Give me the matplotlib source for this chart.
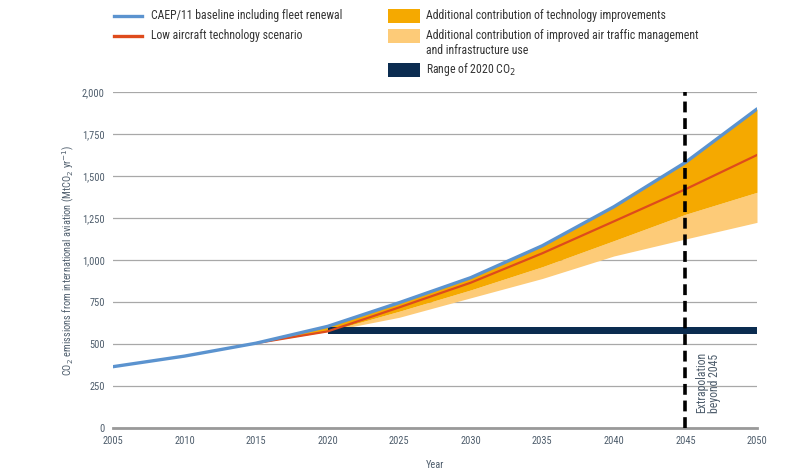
import matplotlib
matplotlib.use("Agg")
import matplotlib.pyplot as plt
from matplotlib.lines import Line2D
from matplotlib.patches import Rectangle
from matplotlib import font_manager

# Data (MtCO2 per year)
hist_years = [2005, 2010, 2015]
hist_vals = [365, 428, 505]

years = [2015, 2020, 2025, 2030, 2035, 2040, 2045, 2050]
baseline = [505, 605, 746, 895, 1085, 1317, 1581, 1899]
low_tech = [505, 575, 718, 865, 1040, 1230, 1421, 1625]
tech_lower = [505, 575, 695, 822, 960, 1115, 1272, 1403]
atm_lower = [505, 575, 659, 775, 890, 1024, 1125, 1224]

range_years = [2020, 2050]
range_low = 560
range_high = 602

xticks = [2005, 2010, 2015, 2020, 2025, 2030, 2035, 2040, 2045, 2050]
yticks = [0, 250, 500, 750, 1000, 1250, 1500, 1750, 2000]

BLUE = "#5b93cf"
RED = "#de4b1c"
ORANGE = "#f5a900"
LIGHT = "#fdcb78"
NAVY = "#0b2c50"
TXT = "#4e5d6c"

# condensed face if one is installed, otherwise a plain sans at smaller size
names = {f.name for f in font_manager.fontManager.ttflist}
fam = "Liberation Sans"
scale = 0.8
for cand in ["Roboto Condensed", "Liberation Sans Narrow", "Open Sans Condensed",
             "Noto Sans Condensed", "Arial Narrow"]:
    if cand in names:
        fam = cand
        scale = 1.0
        break
plt.rcParams["font.family"] = [fam, "DejaVu Sans"]

LEG = 8.5 * scale
TICK = 7.5 * scale

fig = plt.figure(figsize=(8, 4.72), dpi=100)
ax = fig.add_axes([113 / 800, 1 - 428 / 472, 644 / 800, 336 / 472])

ax.fill_between(years, tech_lower, atm_lower, color=LIGHT, lw=0, zorder=2)
ax.fill_between(years, baseline, tech_lower, color=ORANGE, lw=0, zorder=2)
ax.fill_between(range_years, range_low, range_high, color=NAVY, lw=0, zorder=3)
ax.plot(years, low_tech, color=RED, lw=1.6, zorder=4)
ax.plot(hist_years + years[1:], hist_vals + baseline[1:], color=BLUE, lw=2.4,
        zorder=5, solid_capstyle="round")

ax.axvline(2045, color="black", lw=2.6, ls=(0, (3, 1.6)), zorder=6)
ax.text(2045.7, 90, "Extrapolation\nbeyond 2045", rotation=90, ha="left",
        va="bottom", fontsize=8.5 * scale, color=TXT, linespacing=1.0, zorder=7)

ax.set_xlim(2005, 2050)
ax.set_ylim(0, 2000)
ax.set_xticks(xticks)
ax.set_yticks(yticks)
ax.set_yticklabels([f"{v:,}" for v in yticks])
ax.tick_params(length=0, labelsize=TICK, labelcolor=TXT, pad=6)
ax.grid(axis="y", color="#a8a8a8", lw=0.9, zorder=0)
ax.set_axisbelow(True)
for s in ["top", "right", "left"]:
    ax.spines[s].set_visible(False)
ax.spines["bottom"].set_color("#999999")
ax.spines["bottom"].set_linewidth(2)
ax.set_xlabel("Year", fontsize=TICK, color=TXT)
ax.xaxis.set_label_coords(0.5, -(460 - 428) / 336)
ax.set_ylabel("CO$_2$ emissions from international aviation (MtCO$_2$ yr$^{-1}$)",
              fontsize=TICK, color=TXT)
ax.yaxis.set_label_coords((76 - 113) / 644, 0.5)

# Legend drawn by hand in figure pixels
def fx(px):
    return px / 800

def fy(py):
    return 1 - py / 472

fig.add_artist(Line2D([fx(114), fx(142)], [fy(16), fy(16)], color=BLUE, lw=2.4))
fig.add_artist(Line2D([fx(114), fx(142)], [fy(36), fy(36)], color=RED, lw=2.4))
fig.text(fx(151), fy(16), "CAEP/11 baseline including fleet renewal", fontsize=LEG,
         color="#333333", va="center")
fig.text(fx(151), fy(36), "Low aircraft technology scenario", fontsize=LEG,
         color="#333333", va="center")

for py, col in [(16, ORANGE), (36, LIGHT), (70, NAVY)]:
    fig.add_artist(Rectangle((fx(388), fy(py + 7)), fx(32), 14 / 472, color=col, lw=0))
fig.text(fx(426), fy(16), "Additional contribution of technology improvements",
         fontsize=LEG, color="#333333", va="center")
fig.text(fx(426), fy(36), "Additional contribution of improved air traffic management",
         fontsize=LEG, color="#333333", va="center")
fig.text(fx(426), fy(51), "and infrastructure use", fontsize=LEG, color="#333333",
         va="center")
fig.text(fx(426), fy(70), "Range of 2020 CO$_2$", fontsize=LEG, color="#333333",
         va="center")

fig.savefig("out.png", dpi=100)
